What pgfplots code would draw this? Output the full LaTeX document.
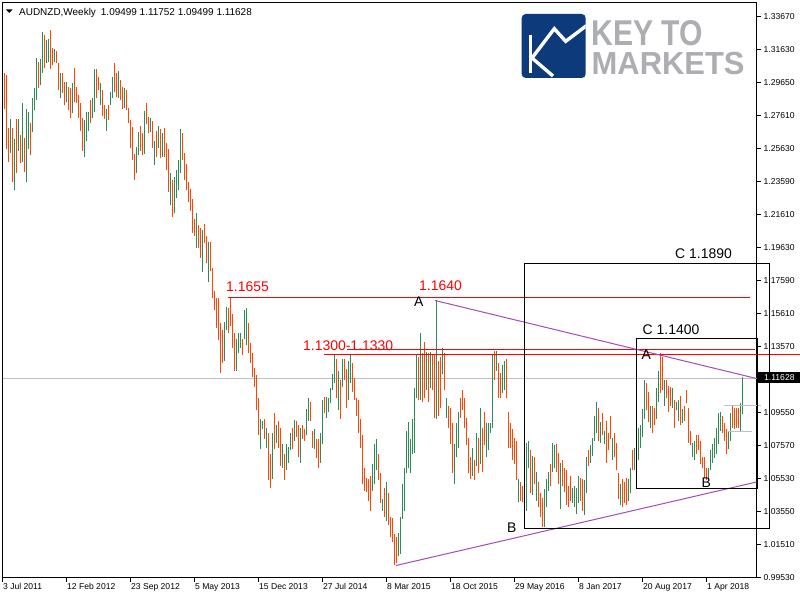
\documentclass[border=0pt]{standalone}
\usepackage{fontspec}
\setmainfont{Liberation Sans}
\usepackage{graphicx}
\usepackage{pgfplots}
\usepackage{pgfplotstable}
\pgfplotsset{compat=1.18}
\definecolor{upc}{RGB}{46,139,87}
\definecolor{dnc}{RGB}{255,69,0}
\definecolor{trl}{RGB}{165,75,185}
\definecolor{logob}{RGB}{12,58,122}
\definecolor{logog}{RGB}{172,174,177}
\definecolor{pl}{RGB}{192,192,192}
\definecolor{lvl}{RGB}{255,0,0}
\newcommand{\tf}{\fontsize{8.6}{10}\selectfont}
\newcommand{\af}{\fontsize{14}{16}\selectfont}

\pgfplotstableread{
i h l d
0 1.3026 1.2807 0
1 1.3008 1.2563 0
2 1.2691 1.2479 0
3 1.2746 1.2539 1
4 1.2691 1.2357 0
5 1.2624 1.2308 1
6 1.2746 1.2412 0
7 1.2746 1.2551 1
8 1.2643 1.2473 0
9 1.2838 1.2479 1
10 1.2630 1.2418 0
11 1.2807 1.2357 1
12 1.2783 1.2563 1
13 1.2716 1.2521 0
14 1.2868 1.2661 1
15 1.2929 1.2795 1
16 1.3117 1.2856 1
17 1.3087 1.2929 0
18 1.3111 1.2948 1
19 1.3270 1.3026 1
20 1.3252 1.3056 0
21 1.3221 1.3081 1
22 1.3233 1.3087 1
23 1.3282 1.3050 0
24 1.3178 1.3069 0
25 1.3172 1.3087 1
26 1.3160 1.3081 0
27 1.3081 1.2917 0
28 1.3026 1.2868 1
29 1.3026 1.2899 0
30 1.2966 1.2826 0
31 1.2966 1.2844 1
32 1.2935 1.2795 0
33 1.2929 1.2752 0
34 1.2960 1.2777 1
35 1.3056 1.2844 0
36 1.2935 1.2838 0
37 1.2887 1.2752 0
38 1.2838 1.2673 0
39 1.2752 1.2551 0
40 1.2734 1.2509 1
41 1.2783 1.2612 1
42 1.2783 1.2673 1
43 1.2856 1.2716 0
44 1.2868 1.2752 1
45 1.3050 1.2783 1
46 1.3050 1.2868 0
47 1.2996 1.2917 0
48 1.2960 1.2826 1
49 1.2917 1.2764 0
50 1.2826 1.2746 0
51 1.2807 1.2673 1
52 1.2826 1.2734 0
53 1.2905 1.2826 1
54 1.2996 1.2868 1
55 1.3081 1.2905 0
56 1.3026 1.2874 0
57 1.3038 1.2868 1
58 1.2978 1.2856 0
59 1.2935 1.2807 0
60 1.2929 1.2813 1
61 1.2917 1.2795 0
62 1.2813 1.2716 0
63 1.2734 1.2569 0
64 1.2697 1.2491 0
65 1.2533 1.2369 0
66 1.2575 1.2412 1
67 1.2667 1.2521 1
68 1.2703 1.2551 0
69 1.2655 1.2521 0
70 1.2789 1.2533 1
71 1.2838 1.2710 0
72 1.2758 1.2655 0
73 1.2752 1.2661 1
74 1.2728 1.2569 0
75 1.2612 1.2466 1
76 1.2673 1.2509 0
77 1.2703 1.2569 1
78 1.2685 1.2503 0
79 1.2655 1.2509 1
80 1.2691 1.2509 0
81 1.2600 1.2430 0
82 1.2563 1.2296 0
83 1.2412 1.2217 1
84 1.2369 1.2144 0
85 1.2393 1.2168 1
86 1.2430 1.2265 1
87 1.2491 1.2314 1
88 1.2685 1.2412 1
89 1.2655 1.2491 0
90 1.2539 1.2369 0
91 1.2472 1.2308 0
92 1.2357 1.2235 0
93 1.2320 1.2186 0
94 1.2259 1.2052 0
95 1.2137 1.2034 0
96 1.2174 1.1961 1
97 1.2095 1.1961 0
98 1.2077 1.1900 0
99 1.2065 1.1809 1
100 1.2107 1.1986 0
101 1.2034 1.1864 0
102 1.1992 1.1748 1
103 1.1992 1.1821 0
104 1.1839 1.1651 0
105 1.1699 1.1578 0
106 1.1651 1.1474 0
107 1.1651 1.1395 0
108 1.1499 1.1200 0
109 1.1456 1.1261 0
110 1.1505 1.1273 1
111 1.1596 1.1456 1
112 1.1590 1.1438 0
113 1.1655 1.1486 0
114 1.1559 1.1352 0
115 1.1438 1.1212 0
116 1.1407 1.1212 1
117 1.1438 1.1316 1
118 1.1438 1.1352 1
119 1.1407 1.1304 0
120 1.1578 1.1407 1
121 1.1590 1.1365 1
122 1.1499 1.1316 0
123 1.1377 1.1255 0
124 1.1316 1.1170 0
125 1.1230 1.1109 0
126 1.1182 1.0969 0
127 1.1048 1.0817 0
128 1.0920 1.0737 1
129 1.0908 1.0859 1
130 1.0920 1.0798 0
131 1.0865 1.0743 1
132 1.0835 1.0543 0
133 1.0707 1.0500 0
134 1.0835 1.0555 1
135 1.0951 1.0737 0
136 1.0878 1.0774 1
137 1.0908 1.0743 0
138 1.0865 1.0634 0
139 1.0768 1.0622 1
140 1.0707 1.0543 0
141 1.0768 1.0604 1
142 1.0744 1.0652 1
143 1.0835 1.0726 1
144 1.0865 1.0737 0
145 1.0914 1.0786 1
146 1.0908 1.0805 0
147 1.0878 1.0683 0
148 1.0865 1.0652 1
149 1.0878 1.0798 0
150 1.0859 1.0786 0
151 1.0981 1.0817 1
152 1.1042 1.0908 1
153 1.1018 1.0908 0
154 1.0847 1.0743 0
155 1.0859 1.0737 1
156 1.0798 1.0677 0
157 1.0798 1.0622 0
158 1.0829 1.0652 1
159 1.1030 1.0768 1
160 1.1054 1.0951 0
161 1.1054 1.0926 1
162 1.1048 1.0957 1
163 1.1103 1.1012 1
164 1.1194 1.1091 1
165 1.1304 1.1134 1
166 1.1285 1.1042 0
167 1.1212 1.0969 1
168 1.1152 1.0920 0
169 1.1285 1.1109 1
170 1.1285 1.1152 0
171 1.1224 1.0987 0
172 1.1273 1.1030 1
173 1.1304 1.1139 1
174 1.1255 1.1079 0
175 1.1164 1.1030 0
176 1.1042 1.0938 0
177 1.1030 1.0829 0
178 1.0920 1.0743 0
179 1.0817 1.0524 0
180 1.0622 1.0482 0
181 1.0561 1.0470 0
182 1.0555 1.0421 0
183 1.0573 1.0360 0
184 1.0646 1.0482 1
185 1.0768 1.0524 1
186 1.0798 1.0604 1
187 1.0707 1.0543 0
188 1.0586 1.0403 0
189 1.0433 1.0360 1
190 1.0500 1.0318 0
191 1.0531 1.0299 1
192 1.0464 1.0269 0
193 1.0318 1.0196 0
194 1.0312 1.0166 0
195 1.0220 1.0026 0
196 1.0196 1.0038 0
197 1.0226 1.0086 1
198 1.0318 1.0098 1
199 1.0524 1.0311 1
200 1.0622 1.0360 1
201 1.0847 1.0586 1
202 1.0896 1.0616 1
203 1.0798 1.0586 1
204 1.0920 1.0707 1
205 1.1103 1.0713 1
206 1.1304 1.1048 1
207 1.1292 1.1030 0
208 1.1438 1.1030 1
209 1.1316 1.1018 0
210 1.1383 1.1042 0
211 1.1322 1.1091 1
212 1.1316 1.1018 0
213 1.1322 1.1103 1
214 1.1304 1.1091 0
215 1.1304 1.0926 0
216 1.1640 1.0920 1
217 1.1273 1.0938 0
218 1.1292 1.0987 0
219 1.1352 1.1194 1
220 1.1316 1.1091 0
221 1.1042 1.0926 1
222 1.0999 1.0865 0
223 1.0987 1.0768 0
224 1.0890 1.0586 0
225 1.0768 1.0524 1
226 1.0890 1.0683 1
227 1.0957 1.0743 1
228 1.1048 1.0926 0
229 1.1091 1.0969 0
230 1.1042 1.0865 0
231 1.0926 1.0756 0
232 1.0804 1.0586 0
233 1.0683 1.0555 0
234 1.0743 1.0573 1
235 1.0665 1.0543 0
236 1.0829 1.0634 1
237 1.0804 1.0586 0
238 1.0987 1.0646 1
239 1.0865 1.0592 0
240 1.0957 1.0756 0
241 1.0890 1.0683 1
242 1.0890 1.0726 1
243 1.0890 1.0829 1
244 1.1304 1.0865 1
245 1.1334 1.1152 0
246 1.1334 1.1212 1
247 1.1255 1.1048 0
248 1.1200 1.1048 0
249 1.1243 1.1073 1
250 1.1273 1.1091 1
251 1.1285 1.1048 0
252 1.0957 1.0743 0
253 1.0890 1.0743 0
254 1.0859 1.0665 0
255 1.0804 1.0646 0
256 1.0786 1.0543 0
257 1.0555 1.0409 1
258 1.0531 1.0421 0
259 1.0512 1.0409 0
260 1.0482 1.0421 0
261 1.0774 1.0360 1
262 1.0786 1.0616 1
263 1.0726 1.0464 0
264 1.0695 1.0452 1
265 1.0683 1.0524 0
266 1.0592 1.0421 1
267 1.0531 1.0379 0
268 1.0464 1.0318 0
269 1.0439 1.0257 0
270 1.0494 1.0257 1
271 1.0555 1.0379 1
272 1.0592 1.0482 1
273 1.0646 1.0512 0
274 1.0774 1.0592 1
275 1.0756 1.0616 1
276 1.0768 1.0592 0
277 1.0713 1.0524 0
278 1.0652 1.0372 1
279 1.0665 1.0512 0
280 1.0616 1.0470 0
281 1.0604 1.0391 0
282 1.0512 1.0379 0
283 1.0573 1.0421 0
284 1.0500 1.0403 1
285 1.0512 1.0379 1
286 1.0500 1.0342 1
287 1.0573 1.0403 1
288 1.0561 1.0421 0
289 1.0555 1.0360 0
290 1.0543 1.0330 1
291 1.0683 1.0464 1
292 1.0726 1.0634 0
293 1.0756 1.0652 1
294 1.0804 1.0695 1
295 1.0938 1.0786 1
296 1.1018 1.0835 1
297 1.0987 1.0786 0
298 1.0896 1.0774 1
299 1.0951 1.0817 0
300 1.0847 1.0768 1
301 1.0908 1.0652 0
302 1.0835 1.0726 0
303 1.0938 1.0798 0
304 1.0804 1.0665 1
305 1.0829 1.0683 0
306 1.0774 1.0604 0
307 1.0586 1.0433 0
308 1.0524 1.0391 1
309 1.0555 1.0379 0
310 1.0531 1.0403 0
311 1.0561 1.0391 0
312 1.0555 1.0421 1
313 1.0622 1.0464 1
314 1.0726 1.0604 0
315 1.0738 1.0604 1
316 1.0786 1.0634 0
317 1.0865 1.0665 1
318 1.0878 1.0743 1
319 1.0981 1.0805 1
320 1.1152 1.0920 1
321 1.1139 1.0969 0
322 1.1079 1.0896 0
323 1.0999 1.0865 1
324 1.0999 1.0829 0
325 1.0987 1.0878 0
326 1.1103 1.0920 1
327 1.1212 1.1018 1
328 1.1316 1.1073 0
329 1.1292 1.1091 0
330 1.1152 1.0999 1
331 1.1152 1.1048 0
332 1.1121 1.0957 0
333 1.1109 1.0999 0
334 1.1103 1.0987 1
335 1.1030 1.0865 0
336 1.1018 1.0969 1
337 1.1030 1.0908 1
338 1.1060 1.0878 0
339 1.0981 1.0890 1
340 1.0999 1.0908 0
341 1.1091 1.1012 0
342 1.0987 1.0774 0
343 1.0847 1.0756 0
344 1.0774 1.0683 1
345 1.0786 1.0665 1
346 1.0817 1.0707 0
347 1.0817 1.0726 0
348 1.0786 1.0646 0
349 1.0683 1.0622 0
350 1.0683 1.0561 0
351 1.0622 1.0543 0
352 1.0622 1.0561 1
353 1.0726 1.0604 1
354 1.0768 1.0652 1
355 1.0804 1.0677 1
356 1.0865 1.0707 1
357 1.0951 1.0768 1
358 1.0957 1.0847 1
359 1.0938 1.0829 0
360 1.0890 1.0786 0
361 1.0859 1.0707 0
362 1.0847 1.0737 1
363 1.0951 1.0786 1
364 1.0999 1.0865 0
365 1.0987 1.0859 0
366 1.0987 1.0865 0
367 1.0987 1.0865 0
368 1.1012 1.0847 1
369 1.11752 1.09499 1
}\bars

\begin{document}
\begin{tikzpicture}
\fill[white] (0,0) rectangle (800bp,600bp);
\begin{axis}[
  at={(2.5bp,22.5bp)}, anchor=south west,
  scale only axis, width=754bp, height=575bp,
  xmin=-1, xmax=376, ymin=0.99525, ymax=1.34522,
  clip=false,
  axis line style={line width=1bp, black},
  tick align=outside, major tick length=4bp,
  every tick/.style={line width=1bp, black},
  xtick pos=left, ytick pos=right,
  xticklabel pos=left, yticklabel pos=right,
  xtick={-1,31,63,95,127,159,191,223,255,287,319,351},
  xticklabels={3 Jul 2011,12 Feb 2012,23 Sep 2012,5 May 2013,15 Dec 2013,27 Jul 2014,8 Mar 2015,18 Oct 2015,29 May 2016,8 Jan 2017,20 Aug 2017,1 Apr 2018},
  ytick={1.33670,1.31661,1.29653,1.27644,1.25636,1.23627,1.21619,1.19610,1.17602,1.15593,1.13585,1.09568,1.07559,1.05551,1.03542,1.01534,0.99525},
  yticklabels={1.33670,1.31630,1.29650,1.27610,1.25630,1.23590,1.21610,1.19630,1.17590,1.15610,1.13570,1.09550,1.07570,1.05530,1.03550,1.01510,0.99530},
  xticklabel style={font=\tf, anchor=north west, inner sep=0pt, xshift=0.5bp, yshift=-1.5bp},
  yticklabel style={font=\tf, anchor=west, inner sep=0pt, xshift=3bp},
]
% current price line
\addplot[pl, line width=1bp, forget plot] coordinates {(-1,1.11628) (376,1.11628)};
% up bars (low to high)
\addplot[draw=upc, color=upc, line width=1bp, mark=none, forget plot,
  restrict expr to domain={\thisrow{d}}{0.5:1.5},
  quiver={u=0, v=\thisrow{h}-\thisrow{l}}]
  table[x=i, y=l] {\bars};
% down bars (low to high)
\addplot[draw=dnc, color=dnc, line width=1bp, mark=none, forget plot,
  restrict expr to domain={\thisrow{d}}{-0.5:0.5},
  quiver={u=0, v=\thisrow{h}-\thisrow{l}}]
  table[x=i, y=l] {\bars};
% grey small lines
\addplot[pl, line width=1bp, mark=none] coordinates {(359.75,1.09994) (378.25,1.09994)};
\addplot[pl, line width=1bp, mark=none] coordinates {(361.75,1.08412) (373.75,1.08412)};
% red horizontal levels
\addplot[color=lvl, line width=1.1bp, mark=none] coordinates {(111.75,1.16567) (372.75,1.16567)};
\addplot[color=lvl, line width=1bp, mark=none] coordinates {(171.25,1.13402) (375.25,1.13402)};
\addplot[color=lvl, line width=1bp, mark=none] coordinates {(159.75,1.13098) (397.75,1.13098)};
% triangle lines
\addplot[trl, line width=1bp, mark=none] coordinates {(215.25,1.16385) (376,1.11637)};
\addplot[trl, line width=1bp, mark=none] coordinates {(195.75,1.00256) (376,1.05338)};
% boxes
\addplot[black, line width=1bp, mark=none] coordinates {(260,1.18637) (382.5,1.18637) (382.5,1.02508) (260,1.02508) (260,1.18637)};
\addplot[black, line width=1bp, mark=none] coordinates {(316,1.14072) (376.5,1.14072) (376.5,1.04942) (316,1.04942) (316,1.14072)};
\end{axis}
\begin{scope}[x=1bp, y=-1bp, yshift=600bp]
% title
\fill[black] (6,9.5) -- (12.5,9.5) -- (9.25,13) -- cycle;
\node[anchor=base west, inner sep=0pt, font=\fontsize{10}{12}\selectfont] at (19,15.5) {AUDNZD,Weekly\hspace{5bp}1.09499 1.11752 1.09499 1.11628};
% current price label
\fill[black] (757.5,372.5) rectangle (800,383.5);
\node[anchor=west, inner sep=0pt, text=white, font=\tf] at (764,378) {1.11628};
% annotations
\node[anchor=base west, inner sep=0pt, text=lvl, font=\af] at (226,291.5) {1.1655};
\node[anchor=base west, inner sep=0pt, text=lvl, font=\af] at (419,291) {1.1640};
\node[anchor=base west, inner sep=0pt, text=lvl, font=\af] at (303,351) {1.1300-1.1330};
\node[anchor=base west, inner sep=0pt, font=\af] at (414,307) {A};
\node[anchor=base west, inner sep=0pt, font=\af] at (641.5,360) {A};
\node[anchor=base west, inner sep=0pt, font=\af] at (507,533) {B};
\node[anchor=base west, inner sep=0pt, font=\af] at (701.5,488) {B};
\node[anchor=base west, inner sep=0pt, font=\af] at (675,259) {C 1.1890};
\node[anchor=base west, inner sep=0pt, font=\af] at (642.5,335) {C 1.1400};
% logo
\fill[logob, rounded corners=4bp] (521.7,14) rectangle (585.7,78);
\begin{scope}
\clip[rounded corners=4bp] (521.7,14) rectangle (585.7,78);
\draw[white, line width=3.4bp] (530.7,34.7) -- (530.7,73);
\draw[white, line width=3.4bp, line join=miter] (532,58) -- (554.3,28.7) -- (565.7,41.3) -- (588,24.5);
\draw[white, line width=3.4bp] (532,58) -- (553,76);
\end{scope}
\node[anchor=north west, inner sep=0pt, text=logog] at (591.5,20) {\vbox{\offinterlineskip
  \hbox{\fontsize{36}{36}\bfseries\selectfont\scalebox{0.84}[1]{KEY TO}}\kern6.5bp
  \hbox{\fontsize{32}{32}\bfseries\selectfont\scalebox{0.97}[1]{MARKETS}}}};
\end{scope}
\pgfresetboundingbox
\path[use as bounding box] (0,0) rectangle (800bp,600bp);
\end{tikzpicture}
\end{document}
